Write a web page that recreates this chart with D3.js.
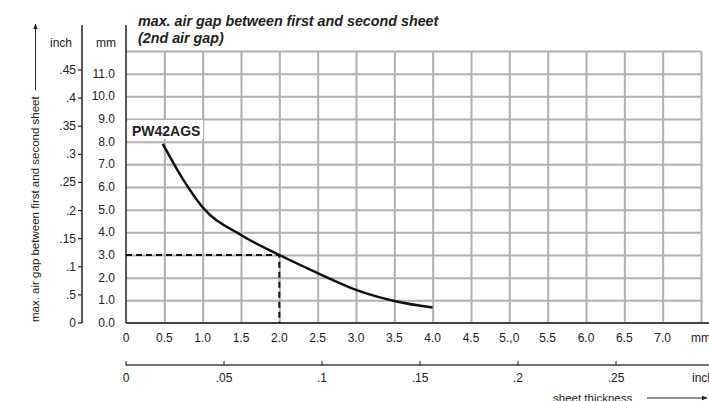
<!DOCTYPE html>
<html lang="en">
<head>
<meta charset="utf-8">
<title>max. air gap between first and second sheet</title>
<style>
    body { margin: 0; background: #fff; }
    svg { display: block; font-family: "Liberation Sans", Arial, sans-serif; }
    .lbl { font-size: 12px; fill: #222; }
</style>
</head>
<body>
<script src="https://cdn.jsdelivr.net/npm/d3@7"></script>
<script>
// sheet thickness (mm) vs max. air gap (mm)
const thickness = [0.48, 0.75, 1.0, 1.5, 2.0, 2.5, 3.0, 3.5, 4.0];
const airGap    = [7.9, 6.3, 5.1, 3.88, 3.0, 2.2, 1.46, 0.97, 0.68];

const xTicksMm   = [0, 0.5, 1.0, 1.5, 2.0, 2.5, 3.0, 3.5, 4.0, 4.5, 5.0, 5.5, 6.0, 6.5, 7.0, 7.5];
const xLabelsMm  = ["0", "0.5", "1.0", "1.5", "2.0", "2.5", "3.0", "3.5", "4.0", "4.5", "5.,0", "5.5", "6.0", "6.5", "7.0", "mm"];
const xTicksIn   = [0, 0.05, 0.1, 0.15, 0.2, 0.25];
const xLabelsIn  = ["0", ".05", ".1", ".15", ".2", ".25"];
const yTicksMm   = [0, 1, 2, 3, 4, 5, 6, 7, 8, 9, 10, 11];
const yGridMm    = [1, 2, 3, 4, 5, 6, 7, 8, 9, 10, 11, 12];
const yTicksIn   = [0, 0.05, 0.1, 0.15, 0.2, 0.25, 0.3, 0.35, 0.4, 0.45];
const yLabelsIn  = ["0", ".5", ".1", ".15", ".2", ".25", ".3", ".35", ".4", ".45"];
const marker     = { x: 2.0, y: 3.0 };

const W = 709, H = 401;
const x = d3.scaleLinear().domain([0, 7.5]).range([126, 701]);
const y = d3.scaleLinear().domain([0, 12]).range([323, 51]);
const xIn = d3.scaleLinear().domain([0, 0.3]).range([126, 714]);
const yIn = d3.scaleLinear().domain([0, 0.45]).range([323, 70]);

const svg = d3.select("body").append("svg").attr("width", W).attr("height", H);

// grid (drawn with axes, long ticks)
const gridStyle = g => {
    g.select(".domain").remove();
    g.selectAll(".tick line").attr("stroke", "#b0b0b0").attr("stroke-width", 2);
};
svg.append("g")
    .attr("transform", `translate(0,${y(0)})`)
    .call(d3.axisBottom(x).tickValues(xTicksMm.slice(1)).tickSize(-(y(0) - y(12))).tickFormat(""))
    .call(gridStyle);
svg.append("g")
    .attr("transform", `translate(${x(0)},0)`)
    .call(d3.axisLeft(y).tickValues(yGridMm).tickSize(-(x(7.5) - x(0))).tickFormat(""))
    .call(gridStyle);

// axis lines
svg.append("line").attr("x1", x(0)).attr("x2", x(0)).attr("y1", 25).attr("y2", y(0))
    .attr("stroke", "#222").attr("stroke-width", 1.5);
svg.append("line").attr("x1", x(0)).attr("x2", W).attr("y1", y(0)).attr("y2", y(0))
    .attr("stroke", "#444").attr("stroke-width", 2);
svg.append("line").attr("x1", 82).attr("x2", 82).attr("y1", 25).attr("y2", y(0))
    .attr("stroke", "#222").attr("stroke-width", 1.5);
svg.append("line").attr("x1", x(0)).attr("x2", W).attr("y1", 365).attr("y2", 365)
    .attr("stroke", "#444").attr("stroke-width", 1.5);

// bottom mm labels
svg.selectAll("text.xmm").data(xTicksMm).join("text")
    .attr("class", "xmm lbl").attr("text-anchor", "middle")
    .attr("x", d => x(d)).attr("y", 342)
    .text((d, i) => xLabelsMm[i]);

// bottom inch axis
svg.selectAll("line.xint").data(xTicksIn).join("line")
    .attr("class", "xint")
    .attr("x1", d => xIn(d)).attr("x2", d => xIn(d))
    .attr("y1", 361).attr("y2", 366)
    .attr("stroke", "#444").attr("stroke-width", 1.2);
svg.selectAll("text.xin").data(xTicksIn).join("text")
    .attr("class", "xin lbl").attr("text-anchor", "middle")
    .attr("x", d => xIn(d)).attr("y", 382)
    .text((d, i) => xLabelsIn[i]);
svg.append("text").attr("class", "lbl").attr("x", 692).attr("y", 382).text("inch");

// left mm labels
svg.selectAll("text.ymm").data(yTicksMm).join("text")
    .attr("class", "ymm lbl").attr("text-anchor", "end")
    .attr("x", 115).attr("y", d => y(d) + 4)
    .text(d => d.toFixed(1));

// left inch axis
svg.selectAll("line.yint").data(yTicksIn).join("line")
    .attr("class", "yint")
    .attr("x1", 78).attr("x2", 82)
    .attr("y1", d => yIn(d)).attr("y2", d => yIn(d))
    .attr("stroke", "#222").attr("stroke-width", 1.2);
svg.selectAll("text.yin").data(yTicksIn).join("text")
    .attr("class", "yin lbl").attr("text-anchor", "end")
    .attr("x", 76).attr("y", d => yIn(d) + 4)
    .text((d, i) => yLabelsIn[i]);

svg.append("text").attr("class", "lbl").attr("x", 50).attr("y", 47).text("inch");
svg.append("text").attr("class", "lbl").attr("x", 96).attr("y", 47).text("mm");

// title
svg.append("text").attr("x", 138).attr("y", 26)
    .attr("font-size", 14.3).attr("font-weight", "bold").attr("font-style", "italic").attr("fill", "#222")
    .text("max. air gap between first and second sheet");
svg.append("text").attr("x", 138).attr("y", 43)
    .attr("font-size", 14.3).attr("font-weight", "bold").attr("font-style", "italic").attr("fill", "#222")
    .text("(2nd air gap)");

// arrow marker
svg.append("defs").append("marker")
    .attr("id", "arr").attr("viewBox", "0 0 10 10")
    .attr("refX", 9).attr("refY", 5)
    .attr("markerWidth", 6).attr("markerHeight", 6)
    .attr("orient", "auto")
  .append("path").attr("d", "M0,1 L10,5 L0,9 Z").attr("fill", "#222");

// y title
svg.append("text").attr("transform", "translate(39,322) rotate(-90)")
    .attr("font-size", 11.5).attr("fill", "#222")
    .text("max. air gap between first and second sheet");
svg.append("line").attr("x1", 35.5).attr("x2", 35.5).attr("y1", 90).attr("y2", 24)
    .attr("stroke", "#222").attr("stroke-width", 1).attr("marker-end", "url(#arr)");

// x title
svg.append("text").attr("x", 553).attr("y", 402)
    .attr("font-size", 11.5).attr("fill", "#222").text("sheet thickness");
svg.append("line").attr("x1", 647).attr("x2", 707).attr("y1", 398).attr("y2", 398)
    .attr("stroke", "#222").attr("stroke-width", 1).attr("marker-end", "url(#arr)");

// dashed reading lines
svg.append("path")
    .attr("d", `M${x(0)},${y(marker.y)} H${x(marker.x)} V${y(0)}`)
    .attr("fill", "none").attr("stroke", "#111").attr("stroke-width", 2)
    .attr("stroke-dasharray", "6,4");

// curve
const pts = thickness.map((t, i) => [t, airGap[i]]);
svg.append("path").datum(pts)
    .attr("d", d3.line().x(d => x(d[0])).y(d => y(d[1])).curve(d3.curveMonotoneX))
    .attr("fill", "none").attr("stroke", "#111").attr("stroke-width", 2.5);

// series label
svg.append("rect").attr("x", 128).attr("y", 120).attr("width", 75).attr("height", 19).attr("fill", "#fff");
svg.append("text").attr("x", 132).attr("y", 136)
    .attr("font-size", 14).attr("font-weight", "bold").attr("fill", "#222").text("PW42AGS");
</script>
</body>
</html>
